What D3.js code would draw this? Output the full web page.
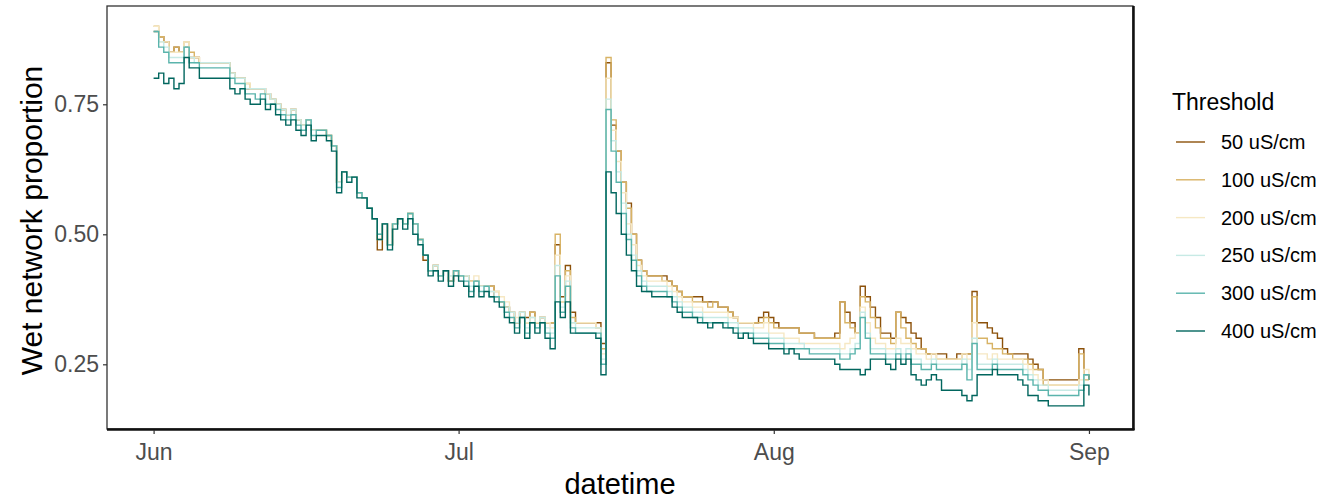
<!DOCTYPE html>
<html>
<head>
<meta charset="utf-8">
<script src="https://cdn.jsdelivr.net/npm/d3@7"></script>
<style>
  body { margin: 0; background: #fff; }
  svg { font-family: "Liberation Sans", Arial, sans-serif; }
</style>
</head>
<body>
<svg id="chart" width="1335" height="501"></svg>
<script>
// readings every 12 hours from 1 June
const startDate = new Date(2021, 5, 1);
const stepHours = 12;

const thresholds = ["50 uS/cm", "100 uS/cm", "200 uS/cm", "250 uS/cm", "300 uS/cm", "400 uS/cm"];
const colors = ["#8C510A", "#D8B365", "#F6E8C3", "#C7EAE5", "#5AB4AC", "#01665E"];
const monthTicks = ["Jun", "Jul", "Aug", "Sep"];
const yTicks = [0.25, 0.5, 0.75];

const s50 = [
  0.89,0.88,0.87,0.85,0.86,0.85,0.86,0.84,0.84,0.83,
  0.83,0.83,0.83,0.83,0.83,0.81,0.80,0.80,0.78,0.78,
  0.78,0.78,0.77,0.76,0.75,0.74,0.73,0.74,0.72,0.71,
  0.72,0.70,0.70,0.70,0.69,0.67,0.60,0.62,0.61,0.61,
  0.58,0.57,0.55,0.53,0.47,0.52,0.48,0.52,0.53,0.52,
  0.54,0.52,0.49,0.45,0.43,0.44,0.42,0.43,0.41,0.43,
  0.42,0.42,0.41,0.41,0.40,0.40,0.40,0.38,0.37,0.36,
  0.35,0.33,0.35,0.34,0.35,0.33,0.34,0.33,0.33,0.48,
  0.38,0.44,0.35,0.33,0.33,0.33,0.33,0.33,0.29,0.83,
  0.71,0.66,0.60,0.56,0.50,0.45,0.43,0.42,0.42,0.42,
  0.42,0.41,0.40,0.39,0.38,0.38,0.38,0.38,0.37,0.37,
  0.37,0.36,0.36,0.35,0.34,0.33,0.33,0.33,0.33,0.34,
  0.35,0.34,0.33,0.32,0.32,0.32,0.32,0.31,0.31,0.31,
  0.30,0.30,0.30,0.30,0.31,0.37,0.35,0.33,0.31,0.40,
  0.38,0.36,0.34,0.31,0.31,0.30,0.35,0.34,0.33,0.31,
  0.30,0.28,0.27,0.27,0.27,0.27,0.26,0.26,0.27,0.27,
  0.27,0.39,0.33,0.33,0.32,0.31,0.30,0.28,0.27,0.27,
  0.27,0.27,0.26,0.25,0.24,0.22,0.22,0.22,0.22,0.22,
  0.22,0.22,0.28,0.23,0.22
];
const s100 = [
  0.90,0.88,0.87,0.85,0.86,0.85,0.87,0.85,0.84,0.83,
  0.83,0.83,0.83,0.83,0.83,0.81,0.80,0.80,0.79,0.78,
  0.78,0.78,0.77,0.76,0.75,0.74,0.73,0.74,0.72,0.71,
  0.72,0.70,0.70,0.70,0.69,0.67,0.60,0.62,0.61,0.61,
  0.58,0.57,0.55,0.53,0.49,0.52,0.48,0.52,0.53,0.52,
  0.54,0.52,0.49,0.46,0.43,0.44,0.42,0.43,0.41,0.43,
  0.42,0.42,0.41,0.41,0.40,0.40,0.40,0.39,0.37,0.36,
  0.35,0.33,0.35,0.33,0.35,0.33,0.34,0.33,0.33,0.50,
  0.37,0.43,0.34,0.33,0.33,0.33,0.33,0.32,0.28,0.84,
  0.72,0.66,0.60,0.55,0.50,0.45,0.43,0.42,0.42,0.42,
  0.41,0.41,0.40,0.39,0.38,0.38,0.37,0.37,0.37,0.36,
  0.37,0.36,0.36,0.35,0.34,0.33,0.33,0.33,0.33,0.33,
  0.34,0.33,0.32,0.32,0.32,0.32,0.32,0.31,0.31,0.31,
  0.30,0.30,0.30,0.30,0.30,0.37,0.33,0.32,0.31,0.38,
  0.37,0.34,0.32,0.30,0.30,0.29,0.35,0.32,0.30,0.29,
  0.28,0.28,0.27,0.27,0.26,0.26,0.26,0.26,0.26,0.27,
  0.27,0.38,0.30,0.30,0.29,0.28,0.28,0.27,0.27,0.26,
  0.26,0.26,0.25,0.24,0.24,0.21,0.21,0.21,0.21,0.21,
  0.21,0.21,0.27,0.22,0.22
];
const s200 = [
  0.90,0.87,0.87,0.85,0.85,0.85,0.87,0.84,0.84,0.83,
  0.83,0.83,0.83,0.83,0.83,0.81,0.80,0.80,0.79,0.78,
  0.78,0.78,0.77,0.76,0.75,0.74,0.73,0.74,0.72,0.71,
  0.72,0.70,0.70,0.70,0.69,0.67,0.60,0.62,0.61,0.61,
  0.58,0.57,0.55,0.53,0.50,0.52,0.48,0.52,0.53,0.52,
  0.54,0.52,0.49,0.46,0.43,0.44,0.42,0.43,0.42,0.43,
  0.42,0.42,0.41,0.42,0.40,0.40,0.39,0.39,0.38,0.37,
  0.35,0.34,0.35,0.33,0.34,0.33,0.34,0.33,0.32,0.46,
  0.37,0.42,0.33,0.33,0.33,0.33,0.33,0.32,0.27,0.80,
  0.70,0.64,0.58,0.52,0.48,0.44,0.42,0.41,0.41,0.41,
  0.41,0.40,0.39,0.38,0.37,0.37,0.36,0.36,0.35,0.35,
  0.35,0.35,0.35,0.34,0.34,0.33,0.33,0.33,0.32,0.32,
  0.33,0.31,0.31,0.31,0.30,0.30,0.30,0.29,0.29,0.29,
  0.29,0.29,0.29,0.29,0.29,0.28,0.29,0.30,0.31,0.36,
  0.33,0.30,0.29,0.29,0.28,0.28,0.30,0.29,0.29,0.28,
  0.27,0.27,0.26,0.27,0.26,0.26,0.26,0.26,0.26,0.27,
  0.26,0.33,0.27,0.27,0.26,0.27,0.26,0.26,0.26,0.26,
  0.26,0.25,0.24,0.23,0.22,0.22,0.21,0.21,0.21,0.21,
  0.21,0.21,0.22,0.24,0.23
];
const s250 = [
  0.89,0.87,0.86,0.84,0.84,0.84,0.86,0.84,0.83,0.83,
  0.83,0.83,0.83,0.83,0.83,0.81,0.80,0.80,0.78,0.78,
  0.78,0.78,0.77,0.76,0.75,0.74,0.73,0.74,0.72,0.71,
  0.72,0.70,0.70,0.70,0.69,0.67,0.60,0.62,0.61,0.61,
  0.58,0.57,0.55,0.53,0.50,0.52,0.48,0.52,0.53,0.52,
  0.54,0.52,0.49,0.46,0.43,0.44,0.42,0.43,0.42,0.43,
  0.42,0.42,0.40,0.41,0.40,0.40,0.39,0.38,0.37,0.36,
  0.35,0.33,0.35,0.32,0.34,0.32,0.34,0.32,0.31,0.44,
  0.36,0.41,0.33,0.32,0.32,0.32,0.32,0.32,0.26,0.76,
  0.68,0.62,0.56,0.50,0.46,0.43,0.41,0.40,0.40,0.40,
  0.40,0.39,0.38,0.37,0.36,0.36,0.35,0.35,0.34,0.34,
  0.34,0.34,0.34,0.33,0.33,0.32,0.32,0.32,0.31,0.31,
  0.31,0.30,0.30,0.30,0.29,0.29,0.29,0.29,0.28,0.28,
  0.28,0.28,0.28,0.28,0.28,0.27,0.27,0.28,0.29,0.35,
  0.31,0.28,0.28,0.28,0.27,0.27,0.28,0.27,0.28,0.26,
  0.26,0.25,0.25,0.26,0.25,0.25,0.25,0.25,0.25,0.26,
  0.24,0.30,0.25,0.25,0.25,0.26,0.25,0.25,0.25,0.25,
  0.25,0.24,0.23,0.22,0.21,0.21,0.20,0.20,0.20,0.20,
  0.20,0.20,0.21,0.23,0.23
];
const s300 = [
  0.89,0.86,0.85,0.83,0.83,0.83,0.86,0.83,0.83,0.82,
  0.82,0.82,0.82,0.82,0.82,0.80,0.79,0.79,0.77,0.77,
  0.76,0.77,0.75,0.75,0.74,0.73,0.72,0.73,0.71,0.70,
  0.72,0.69,0.70,0.70,0.69,0.67,0.59,0.62,0.61,0.61,
  0.58,0.57,0.55,0.53,0.50,0.52,0.48,0.52,0.53,0.52,
  0.54,0.52,0.49,0.46,0.43,0.43,0.42,0.43,0.41,0.43,
  0.42,0.41,0.39,0.41,0.39,0.40,0.38,0.38,0.37,0.35,
  0.34,0.32,0.34,0.31,0.33,0.32,0.33,0.31,0.30,0.42,
  0.35,0.40,0.32,0.31,0.31,0.31,0.31,0.31,0.25,0.74,
  0.66,0.60,0.54,0.49,0.45,0.42,0.40,0.39,0.39,0.39,
  0.39,0.38,0.37,0.36,0.35,0.35,0.34,0.34,0.33,0.33,
  0.33,0.33,0.33,0.32,0.32,0.31,0.31,0.31,0.30,0.30,
  0.30,0.29,0.29,0.29,0.28,0.28,0.28,0.28,0.28,0.27,
  0.27,0.27,0.27,0.27,0.27,0.26,0.26,0.27,0.28,0.34,
  0.30,0.27,0.27,0.27,0.26,0.26,0.27,0.26,0.27,0.25,
  0.25,0.24,0.24,0.25,0.24,0.24,0.24,0.24,0.24,0.25,
  0.22,0.29,0.24,0.24,0.24,0.25,0.24,0.24,0.24,0.24,
  0.24,0.23,0.22,0.21,0.20,0.20,0.19,0.19,0.19,0.19,
  0.19,0.19,0.20,0.23,0.22
];
const s400 = [
  0.80,0.81,0.79,0.80,0.78,0.79,0.84,0.82,0.82,0.80,
  0.80,0.80,0.80,0.80,0.80,0.78,0.77,0.78,0.76,0.75,
  0.75,0.76,0.74,0.75,0.73,0.72,0.71,0.72,0.70,0.69,
  0.71,0.68,0.69,0.69,0.68,0.66,0.58,0.62,0.60,0.61,
  0.57,0.57,0.55,0.53,0.49,0.52,0.47,0.51,0.53,0.51,
  0.53,0.50,0.48,0.46,0.42,0.43,0.41,0.43,0.40,0.42,
  0.41,0.40,0.38,0.40,0.38,0.39,0.38,0.37,0.36,0.34,
  0.33,0.31,0.34,0.30,0.33,0.31,0.33,0.30,0.28,0.37,
  0.34,0.37,0.31,0.31,0.31,0.31,0.31,0.30,0.23,0.62,
  0.58,0.54,0.50,0.46,0.43,0.40,0.39,0.39,0.38,0.38,
  0.38,0.38,0.36,0.35,0.34,0.34,0.34,0.33,0.33,0.32,
  0.33,0.33,0.32,0.32,0.31,0.30,0.31,0.30,0.29,0.29,
  0.29,0.28,0.28,0.28,0.27,0.28,0.27,0.26,0.26,0.26,
  0.26,0.26,0.26,0.26,0.25,0.24,0.24,0.24,0.24,0.23,
  0.24,0.26,0.26,0.26,0.25,0.24,0.26,0.25,0.26,0.23,
  0.22,0.21,0.22,0.23,0.22,0.20,0.20,0.20,0.20,0.19,
  0.18,0.19,0.23,0.23,0.23,0.24,0.23,0.23,0.23,0.23,
  0.22,0.21,0.19,0.19,0.18,0.18,0.17,0.17,0.17,0.17,
  0.17,0.17,0.17,0.21,0.19
];

const seriesValues = [s50, s100, s200, s250, s300, s400];

const panel = { left: 107, right: 1133, top: 6, bottom: 429 };

const svg = d3.select("#chart");

const x = d3.scaleTime()
  .domain([d3.timeHour.offset(startDate, -110), d3.timeHour.offset(startDate, 92 * 24 + 104)])
  .range([panel.left, panel.right]);

const y = d3.scaleLinear()
  .domain([0.1256, 0.939])
  .range([panel.bottom, panel.top]);

const series = thresholds.map((name, i) => ({
  name: name,
  color: colors[i],
  values: seriesValues[i].map((v, j) => ({ date: d3.timeHour.offset(startDate, j * stepHours), value: v }))
}));

const line = d3.line()
  .curve(d3.curveStepAfter)
  .x((d) => x(d.date))
  .y((d) => y(d.value));

svg.append("defs").append("clipPath").attr("id", "clip")
  .append("rect")
  .attr("x", panel.left).attr("y", panel.top)
  .attr("width", panel.right - panel.left).attr("height", panel.bottom - panel.top);

svg.append("g")
  .attr("clip-path", "url(#clip)")
  .selectAll(".line")
  .data(series)
  .enter()
  .append("path")
  .attr("class", "line")
  .attr("d", (d) => line(d.values))
  .style("stroke", (d) => d.color)
  .style("fill", "none")
  .style("stroke-width", 1.4);

// panel border
svg.append("rect")
  .attr("x", panel.left).attr("y", panel.top)
  .attr("width", panel.right - panel.left).attr("height", panel.bottom - panel.top)
  .style("fill", "none").style("stroke", "#333").style("stroke-width", 1.3);
svg.append("line")
  .attr("x1", panel.right + 0.5).attr("x2", panel.right + 0.5)
  .attr("y1", panel.top).attr("y2", panel.bottom + 1)
  .style("stroke", "#111").style("stroke-width", 2.5);
svg.append("line")
  .attr("x1", panel.left).attr("x2", panel.right + 1.5)
  .attr("y1", panel.bottom + 0.5).attr("y2", panel.bottom + 0.5)
  .style("stroke", "#111").style("stroke-width", 2.5);

// x axis
const xTickDates = monthTicks.map((m, i) => new Date(2021, 5 + i, 1));
const xAxis = svg.append("g")
  .attr("transform", `translate(0,${panel.bottom + 1})`)
  .call(d3.axisBottom(x).tickValues(xTickDates).tickFormat((d, i) => monthTicks[i]).tickSize(4).tickPadding(10));
xAxis.select(".domain").remove();
xAxis.selectAll("line").style("stroke", "#333").style("stroke-width", 1.2);
xAxis.selectAll("text").style("font-size", "23px").style("fill", "#4d4d4d")
  .style("font-family", "'Liberation Sans', Arial, sans-serif");

// y axis
const yAxis = svg.append("g")
  .attr("transform", `translate(${panel.left},0)`)
  .call(d3.axisLeft(y).tickValues(yTicks).tickFormat(d3.format(".2f")).tickSize(4).tickPadding(4));
yAxis.select(".domain").remove();
yAxis.selectAll("line").style("stroke", "#333").style("stroke-width", 1.2);
yAxis.selectAll("text").style("font-size", "23px").style("fill", "#4d4d4d")
  .style("font-family", "'Liberation Sans', Arial, sans-serif");

// axis titles
svg.append("text")
  .attr("x", (panel.left + panel.right) / 2)
  .attr("y", 494)
  .attr("text-anchor", "middle")
  .style("font-size", "29px")
  .text("datetime");

svg.append("text")
  .attr("transform", `translate(42,${(panel.top + panel.bottom) / 2 + 3}) rotate(-90)`)
  .attr("text-anchor", "middle")
  .style("font-size", "30px")
  .text("Wet network proportion");

// legend
svg.append("text")
  .attr("x", 1172)
  .attr("y", 110)
  .style("font-size", "23px")
  .text("Threshold");

const legend = svg.selectAll(".key")
  .data(series)
  .enter()
  .append("g")
  .attr("class", "key")
  .attr("transform", (d, i) => `translate(1176,${142 + i * 37.8})`);

legend.append("line")
  .attr("x1", 0).attr("x2", 29)
  .style("stroke", (d) => d.color)
  .style("stroke-width", 1.4);

legend.append("text")
  .attr("x", 45)
  .attr("dy", "0.35em")
  .style("font-size", "20px")
  .text((d) => d.name);
</script>
</body>
</html>
